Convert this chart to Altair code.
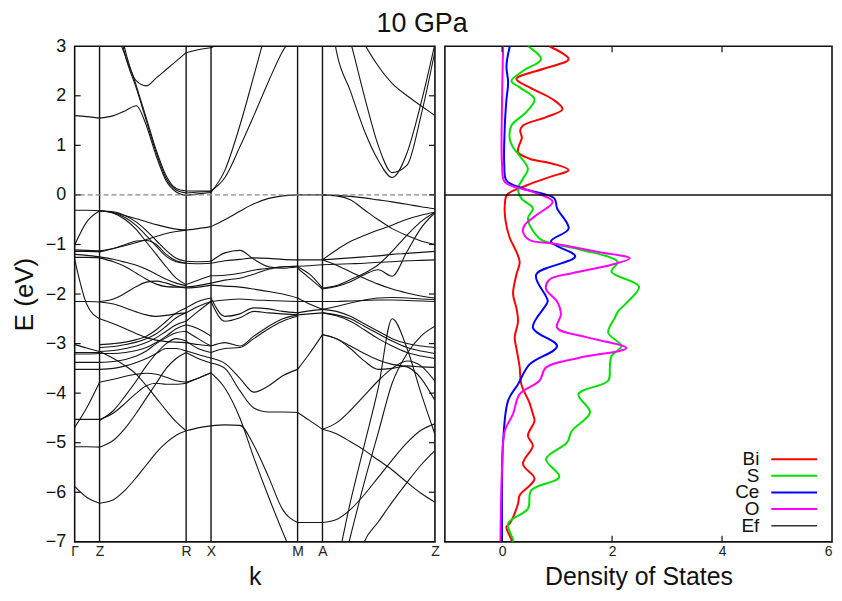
import altair as alt
import pandas as pd

FONT = "Liberation Sans"

# ---------------- band structure data ----------------
HS_K = [0, 25, 112, 137, 224, 249, 362]
HS_LABELS = ["Γ", "Z", "R", "X", "M", "A", "Z"]
E_MIN, E_MAX = -7, 3

K_GZ = [0, 12, 25]
K_ZR = [25, 39, 51, 62, 72, 82, 92, 102, 112]
K_RX = [112, 124, 137]
K_XM = [137, 151, 166, 180, 195, 209, 224]
K_MA = [224, 236, 249]
K_AZ = [249, 263, 277, 291, 305, 319, 334, 348, 362]

BANDS_GZ = [
    [1.6, 1.58, 1.55], [-0.31, -0.31, -0.32], [-1.01, -0.55, -0.32],
    [-1.11, -1.12, -1.13], [-1.14, -1.14, -1.15], [-1.2, -1.22, -1.25],
    [-1.26, -1.26, -1.27], [-1.3, -2.2, -2.5],
    [-2.15, -2.15, -2.16], [-3.02, -3.09, -3.16], [-3.18, -3.18, -3.18],
    [-3.21, -3.21, -3.2], [-3.38, -3.38, -3.38], [-3.52, -3.52, -3.52],
    [-4.69, -4.3, -3.78], [-4.53, -4.53, -4.53], [-5.08, -5.08, -5.09],
    [-5.88, -6.1, -6.22],
]
BANDS_ZR = [
    [1.55, 1.6, 1.7, 1.8, 1.4, 0.78, 0.28, 0.06, -0.01],
    [6, 4, 2.8, 2.15, 1.5, 0.85, 0.33, 0.1, 0.04],
    [6, 4.2, 2.9, 2.2, 1.55, 0.9, 0.38, 0.13, 0.08],
    [6, 3.6, 2.8, 2.3, 2.2, 2.36, 2.53, 2.7, 2.87],
    [-0.32, -0.36, -0.42, -0.48, -0.54, -0.6, -0.65, -0.69, -0.71],
    [-0.32, -0.34, -0.42, -0.55, -0.72, -0.92, -1.12, -1.28, -1.34],
    [-0.32, -0.36, -0.46, -0.62, -0.82, -1.04, -1.24, -1.35, -1.38],
    [-0.32, -0.37, -0.5, -0.7, -0.95, -1.2, -1.45, -1.68, -1.81],
    [-1.13, -1.08, -1.02, -0.96, -0.9, -0.84, -0.78, -0.74, -0.71],
    [-1.15, -1.08, -1.0, -0.93, -0.92, -1.0, -1.2, -1.33, -1.38],
    [-1.25, -1.3, -1.36, -1.42, -1.5, -1.6, -1.7, -1.78, -1.83],
    [-1.27, -1.35, -1.45, -1.58, -1.7, -1.8, -1.85, -1.86, -1.86],
    [-2.15, -2.1, -1.98, -1.85, -1.76, -1.74, -1.78, -1.84, -1.88],
    [-2.16, -2.2, -2.28, -2.36, -2.42, -2.45, -2.43, -2.4, -2.38],
    [-2.5, -2.6, -2.7, -2.8, -2.88, -2.93, -2.96, -2.97, -2.98],
    [-3.02, -3.0, -2.97, -2.92, -2.85, -2.72, -2.55, -2.38, -2.28],
    [-3.08, -3.06, -3.02, -2.97, -2.9, -2.8, -2.65, -2.48, -2.38],
    [-3.16, -3.14, -3.1, -3.05, -2.98, -2.88, -2.75, -2.62, -2.55],
    [-3.2, -3.2, -3.18, -3.14, -3.08, -2.98, -2.85, -2.7, -2.62],
    [-3.38, -3.36, -3.32, -3.25, -3.15, -3.0, -2.88, -2.78, -2.75],
    [-3.52, -3.5, -3.45, -3.38, -3.3, -3.2, -3.1, -3.1, -3.15],
    [-3.78, -3.72, -3.66, -3.62, -3.6, -3.62, -3.68, -3.75, -3.78],
    [-3.16, -3.3, -3.45, -3.62, -3.85, -4.1, -4.35, -4.58, -4.76],
    [-4.53, -4.4, -4.2, -4.0, -3.85, -3.8, -3.82, -3.82, -3.8],
    [-4.55, -4.35, -4.05, -3.75, -3.45, -3.2, -3.0, -2.9, -2.95],
    [-5.09, -4.95, -4.7, -4.4, -4.1, -3.8, -3.5, -3.3, -3.18],
    [-6.22, -6.15, -5.95, -5.7, -5.45, -5.2, -5.0, -4.85, -4.76],
]
BANDS_RX = [
    [-0.01, 0.02, 0.05], [0.04, 0.06, 0.07], [0.08, 0.08, 0.08], [2.87, 2.93, 2.97],
    [-0.71, -0.68, -0.64], [-1.34, -1.35, -1.34], [-1.38, -1.39, -1.38],
    [-1.81, -1.72, -1.63], [-1.86, -1.83, -1.78], [-1.88, -1.86, -1.82],
    [-2.28, -2.15, -2.08], [-2.38, -2.25, -2.15], [-2.55, -2.35, -2.15],
    [-2.62, -2.7, -2.85], [-2.75, -2.9, -3.05], [-2.98, -3.02, -3.05],
    [-2.95, -3.1, -3.18], [-3.15, -3.22, -3.29], [-3.18, -3.3, -3.39],
    [-3.78, -3.7, -3.59], [-3.8, -3.7, -3.59], [-4.76, -4.7, -4.66],
]
BANDS_XM = [
    [0.05, 0.5, 1.4, 2.4, 3.5, 4.5, 5],
    [0.08, 0.35, 0.97, 1.6, 2.3, 2.9, 3.3],
    [2.97, 3.1, 3.3, 3.6, 4, 4.2, 4.4],
    [-0.64, -0.5, -0.33, -0.18, -0.07, -0.02, 0.0],
    [-1.34, -1.17, -1.12, -1.3, -1.45, -1.48, -1.45],
    [-1.38, -1.33, -1.3, -1.27, -1.28, -1.3, -1.31],
    [-1.63, -1.62, -1.58, -1.52, -1.48, -1.45, -1.44],
    [-1.78, -1.72, -1.68, -1.6, -1.5, -1.45, -1.44],
    [-1.82, -1.84, -1.86, -1.9, -1.95, -2.0, -2.08],
    [-2.08, -2.45, -2.4, -2.28, -2.3, -2.35, -2.38],
    [-2.15, -2.55, -2.48, -2.35, -2.38, -2.4, -2.42],
    [-2.15, -2.12, -2.1, -2.12, -2.13, -2.14, -2.15],
    [-3.05, -2.98, -3.05, -2.85, -2.65, -2.5, -2.42],
    [-3.18, -3.1, -3.08, -2.9, -2.7, -2.55, -2.45],
    [-3.29, -3.4, -3.7, -3.98, -3.85, -3.65, -3.52],
    [-3.39, -3.5, -3.95, -4.3, -4.38, -4.38, -4.39],
    [-3.59, -3.9, -4.5, -5.3, -6.1, -6.8, -7.5],
    [-4.66, -4.64, -4.65, -5.05, -5.7, -6.35, -6.61],
]
BANDS_MA = [
    [0, 0, 0], [-1.31, -1.31, -1.31], [-1.44, -1.43, -1.41], [-1.45, -1.6, -1.88],
    [-1.48, -1.68, -1.9], [-2.08, -2.2, -2.31], [-2.15, -2.15, -2.15], [-2.38, -2.34, -2.31],
    [-2.42, -2.4, -2.38], [-3.52, -3.2, -2.82], [-4.39, -4.55, -4.73],
    [-6.61, -6.61, -6.61],
]
BANDS_AZ = [
    [5, 2.9, 2.1, 1.3, 0.7, 0.35, 0.85, 1.85, 3.05],
    [5, 4, 3.1, 2.0, 1.0, 0.45, 0.6, 1.6, 2.9],
    [5, 4.2, 3.6, 3.05, 2.6, 2.25, 2.0, 1.8, 1.6],
    [0, -0.01, -0.03, -0.06, -0.1, -0.14, -0.19, -0.24, -0.28],
    [0, -0.02, -0.1, -0.3, -0.5, -0.68, -0.82, -0.93, -1.0],
    [-1.31, -1.11, -0.94, -0.82, -0.71, -0.61, -0.49, -0.41, -0.35],
    [-1.88, -1.83, -1.71, -1.58, -1.41, -1.14, -0.81, -0.54, -0.35],
    [-1.9, -1.85, -1.75, -1.61, -1.51, -1.64, -1.14, -0.67, -0.36],
    [-1.31, -1.29, -1.27, -1.25, -1.23, -1.2, -1.18, -1.16, -1.14],
    [-1.41, -1.4, -1.39, -1.38, -1.36, -1.35, -1.33, -1.32, -1.31],
    [-1.31, -1.42, -1.55, -1.68, -1.8, -1.9, -1.98, -2.04, -2.08],
    [-2.15, -2.15, -2.14, -2.13, -2.12, -2.12, -2.13, -2.14, -2.15],
    [-2.31, -2.25, -2.18, -2.12, -2.08, -2.07, -2.08, -2.1, -2.11],
    [-2.31, -2.35, -2.45, -2.6, -2.75, -2.9, -3.0, -3.05, -3.08],
    [-2.38, -2.42, -2.5, -2.65, -2.8, -2.95, -3.08, -3.15, -3.2],
    [-2.38, -2.44, -2.55, -2.72, -2.9, -3.05, -3.18, -3.25, -3.3],
    [-2.82, -2.9, -3.1, -3.35, -3.52, -3.5, -3.45, -3.47, -3.48],
    [-2.82, -2.9, -3.05, -3.2, -3.33, -3.42, -3.47, -3.7, -4.15],
    [-4.73, -4.6, -4.35, -4.05, -3.75, -3.5, -3.35, -3.45, -3.76],
    [-4.73, -4.82, -4.98, -5.15, -5.35, -5.55, -5.8, -6.02, -6.2],
    [-8.5, -7.5, -6.2, -5.05, -3.9, -2.5, -3.1, -4.0, -4.83],
    [-8.5, -8.0, -6.9, -5.8, -4.8, -3.8, -3.2, -2.85, -2.65],
    [-6.61, -6.55, -6.35, -6.05, -5.7, -5.35, -5.0, -4.75, -4.62],
    [-9, -8.6, -8.0, -7.0, -6.6, -6.2, -5.8, -5.45, -5.16],
]

# ---------------- density of states data ----------------
BI_E = [3.0, 2.74, 2.54, 2.34, 2.17, 1.93, 1.73, 1.57, 1.4, 1.3, 1.15, 1.0, 0.86, 0.73, 0.63, 0.5,
        0.36, 0.19, 0.0, -0.2, -0.5, -0.87, -1.1, -1.35, -1.61, -2.0, -2.28, -2.55, -2.88, -3.09,
        -3.48, -3.82, -4.2, -4.42, -4.56, -4.86, -5.06, -5.43, -5.73, -6.06, -6.23, -6.63, -6.7,
        -6.96, -7.0]
BI_D = [0.86, 1.21, 0.74, 0.26, 0.5, 0.92, 1.1, 0.8, 0.38, 0.33, 0.36, 0.31, 0.29, 0.5, 0.92, 1.21,
        0.86, 0.44, 0.09, 0.05, 0.06, 0.14, 0.24, 0.32, 0.26, 0.2, 0.26, 0.29, 0.23, 0.26,
        0.32, 0.35, 0.5, 0.56, 0.59, 0.47, 0.56, 0.38, 0.59, 0.32, 0.29, 0.14, 0.08,
        0.17, 0.17]
S_E = [3.0, 2.74, 2.5, 2.3, 2.17, 1.93, 1.67, 1.4, 1.13, 0.96, 0.53, 0.33, 0.13, -0.07, -0.27,
       -0.48, -0.88, -0.98, -1.11, -1.35, -1.55, -1.85, -2.15, -2.35, -2.48, -2.78, -3.05, -3.25,
       -3.48, -3.75, -4.02, -4.39, -4.76, -5.0, -5.33, -5.69, -5.96, -6.33, -6.63, -6.96, -7.0]
S_D = [0.47, 0.71, 0.38, 0.17, 0.32, 0.59, 0.44, 0.17, 0.14, 0.2, 0.47, 0.38, 0.29, 0.35, 0.56,
       0.47, 0.68, 0.92, 1.45, 2.1, 1.99, 2.49, 2.29, 2.11, 2.05, 1.93, 2.17, 1.99,
       1.96, 1.93, 1.39, 1.6, 1.27, 1.18, 0.8, 1.04, 0.53, 0.47, 0.11, 0.2, 0.2]
CE_E = [3.0, 2.6, 2.27, 1.93, 1.4, 0.6, 0.29, 0.13, -0.07, -0.27, -0.68, -0.94, -1.24, -1.61,
        -2.05, -2.15, -2.68, -3.05, -3.42, -3.82, -4.15, -4.96, -5.63, -7.0]
CE_D = [0.14, 0.08, 0.11, 0.08, 0.05, 0.04, 0.08, 0.38, 0.95, 1.0, 1.21, 0.89, 1.33, 0.62,
        0.8, 0.83, 0.56, 1.0, 0.5, 0.29, 0.11, 0.02, 0.0, 0.0]
O_E = [3.0, 1.93, 0.6, 0.26, 0.06, -0.14, -0.41, -0.61, -0.74, -0.91, -0.98, -1.15, -1.28, -1.41,
       -1.58, -1.71, -1.9, -2.15, -2.41, -2.68, -2.88, -3.09, -3.29, -3.48, -3.75, -4.02, -4.42,
       -4.76, -5.49, -7.0]
O_D = [0.02, 0.0, 0.0, 0.05, 0.56, 0.92, 0.62, 0.41, 0.38, 0.5, 0.92, 1.75, 2.32, 1.99,
       1.27, 0.86, 0.8, 1.0, 1.07, 1.0, 1.57, 2.26, 1.39, 0.8, 0.68, 0.32, 0.2,
       0.05, 0.0, -0.03]

SPECIES = ["Bi", "S", "Ce", "O"]
SPECIES_COLORS = ["#ff0000", "#00e000", "#0000ff", "#ff00ff"]
DOS_TICKS = [0, 2, 4, 6]
DOS_MIN, DOS_MAX = -1.04, 6
LEG_NAMES = ["Bi", "S", "Ce", "O", "Ef"]
LEG_COLORS = SPECIES_COLORS + ["#333333"]

# ---------------- build tables ----------------
rows = []
for seg, ks, bands in [("GZ", K_GZ, BANDS_GZ), ("ZR", K_ZR, BANDS_ZR), ("RX", K_RX, BANDS_RX),
                       ("XM", K_XM, BANDS_XM), ("MA", K_MA, BANDS_MA), ("AZ", K_AZ, BANDS_AZ)]:
    for bi, es in enumerate(bands):
        for k, e in zip(ks, es):
            rows.append({"band": f"{seg}{bi}", "k": k, "E": e})
bands_df = pd.DataFrame(rows)

dos_rows = []
for name, es, ds in [("Bi", BI_E, BI_D), ("S", S_E, S_D), ("Ce", CE_E, CE_D), ("O", O_E, O_D)]:
    for i, (e, d) in enumerate(zip(es, ds)):
        dos_rows.append({"species": name, "i": i, "E": e, "dos": d})
dos_df = pd.DataFrame(dos_rows)

W_L, W_R, H = 362, 389, 498

label_expr = " : ".join(f"datum.value == {k} ? '{l}'" for k, l in zip(HS_K, HS_LABELS)) + " : ''"

k_scale = alt.Scale(domain=[HS_K[0], HS_K[-1]], nice=False, zero=False)
e_scale = alt.Scale(domain=[E_MIN, E_MAX], nice=False, zero=False)

xk = alt.X("k:Q", scale=k_scale,
           axis=alt.Axis(values=HS_K, labelExpr=label_expr, title="k", labelFontSize=14,
                         labelPadding=3, titleFontSize=25, titlePadding=6,
                         labelOverlap=False, labelFlush=False, labelColor="#222"))
ye = alt.Y("E:Q", scale=e_scale,
           axis=alt.Axis(values=list(range(E_MIN, E_MAX + 1)), format="d", title="E (eV)",
                         labelFontSize=18, labelPadding=9, titleFontSize=26, titlePadding=8,
                         labelColor="#111"))

band_lines = alt.Chart(bands_df).mark_line(
    interpolate="monotone", clip=True, color="#151515", strokeWidth=1.1
).encode(x=xk, y=ye, detail="band:N")

hs_df = pd.DataFrame({"k": HS_K[1:-1]})
hs_rules = alt.Chart(hs_df).mark_rule(color="#111", strokeWidth=1.4).encode(x=alt.X("k:Q", scale=k_scale))

ef_df = pd.DataFrame({"E": [0]})
ef_band = alt.Chart(ef_df).mark_rule(color="#888", strokeWidth=1.2, strokeDash=[5, 3]).encode(
    y=alt.Y("E:Q", scale=e_scale))

ytick_df = pd.DataFrame({"E": list(range(E_MIN + 1, E_MAX))})
yt_left = alt.Chart(ytick_df).mark_rule(color="#111", strokeWidth=1.2).encode(
    y=alt.Y("E:Q", scale=e_scale), x=alt.value(0), x2=alt.value(6))
yt_right = alt.Chart(ytick_df).mark_rule(color="#111", strokeWidth=1.2).encode(
    y=alt.Y("E:Q", scale=e_scale), x=alt.value(W_L - 6), x2=alt.value(W_L))

left = alt.layer(band_lines, hs_rules, ef_band, yt_left, yt_right).properties(width=W_L, height=H)

d_scale = alt.Scale(domain=[DOS_MIN, DOS_MAX], nice=False, zero=False)
xd = alt.X("dos:Q", scale=d_scale,
           axis=alt.Axis(values=DOS_TICKS, format="d", title="Density of States", labelFontSize=14,
                         labelPadding=3, titleFontSize=25, titlePadding=6,
                         labelFlush=True, labelColor="#222"))
yd = alt.Y("E:Q", scale=e_scale, axis=None)

dos_lines = alt.Chart(dos_df).mark_line(interpolate="catmull-rom", clip=True, strokeWidth=2).encode(
    x=xd, y=yd, order="i:Q",
    color=alt.Color("species:N", scale=alt.Scale(domain=SPECIES, range=SPECIES_COLORS), legend=None),
    detail="species:N")

ef_dos = alt.Chart(ef_df).mark_rule(color="#111", strokeWidth=1.5).encode(y=yd)

xt_df = pd.DataFrame({"dos": DOS_TICKS[:-1]})
xt_top = alt.Chart(xt_df).mark_rule(color="#111", strokeWidth=1.2).encode(
    x=alt.X("dos:Q", scale=d_scale), y=alt.value(0), y2=alt.value(6))
xt_bot = alt.Chart(xt_df).mark_rule(color="#111", strokeWidth=1.2).encode(
    x=alt.X("dos:Q", scale=d_scale), y=alt.value(H - 6), y2=alt.value(H))

legend_layers = []
for idx, (name, col) in enumerate(zip(LEG_NAMES, LEG_COLORS)):
    ypix = 415 + idx * 16.7
    one = pd.DataFrame({"name": [name]})
    legend_layers.append(alt.Chart(one).mark_text(
        align="right", baseline="middle", fontSize=19, font=FONT, color="#111"
    ).encode(text="name:N", x=alt.value(316), y=alt.value(ypix)))
    legend_layers.append(alt.Chart(one).mark_rule(
        color=col, strokeWidth=2 if name != "Ef" else 1.5
    ).encode(x=alt.value(328), x2=alt.value(374), y=alt.value(ypix)))

right = alt.layer(dos_lines, ef_dos, xt_top, xt_bot, *legend_layers).properties(width=W_R, height=H)

chart = alt.hconcat(left, right, spacing=2).properties(
    title=alt.TitleParams("10 GPa", fontSize=27, font=FONT, fontWeight="normal", anchor="middle",
                          offset=-1, color="#111"),
    padding={"left": 2, "right": 0, "top": 0, "bottom": 0},
).configure(font=FONT).configure_view(stroke="#111", strokeWidth=1.6).configure_axis(
    grid=False, domain=False, ticks=False, labelFont=FONT, titleFont=FONT,
    titleFontWeight="normal", titleColor="#111"
)

chart.save("out.html", embed_options={"renderer": "svg", "actions": False})
